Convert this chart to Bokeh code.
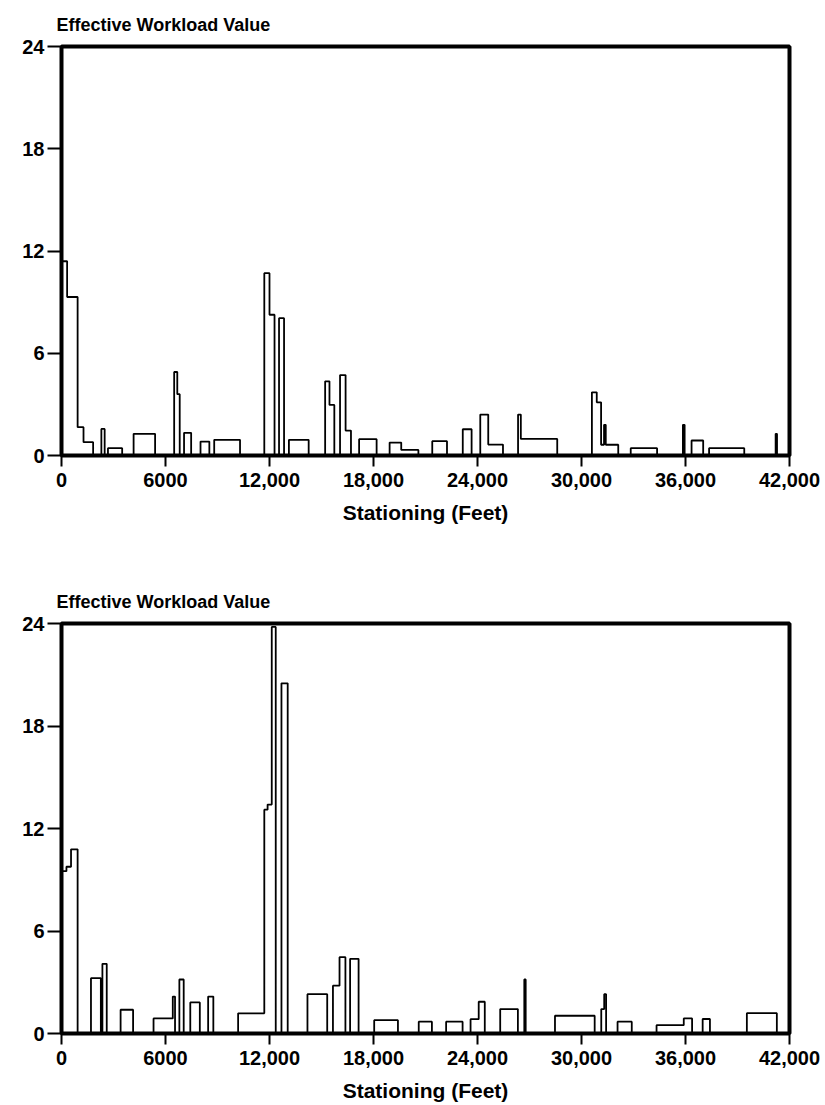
from bokeh.plotting import figure
from bokeh.layouts import column
from bokeh.models import FixedTicker, Range1d
from bokeh.embed import file_html
from bokeh.resources import INLINE

# ---------------- data ----------------
x_ticks = [0, 6000, 12000, 18000, 24000, 30000, 36000, 42000]
x_tick_labels = ["0", "6000", "12,000", "18,000", "24,000", "30,000", "36,000", "42,000"]
y_ticks = [0, 6, 12, 18, 24]

# Top panel: segment start (ft), end (ft), effective workload value
top_start = [0, 325, 930, 1270, 2300, 2680, 4160, 6500, 6680, 7070, 8020, 8810,
             11700, 12000, 12550, 13120, 15210, 15460, 16070, 16390, 17170,
             18930, 19600, 21390, 23150, 24160, 24620, 26340, 26500,
             30600, 30880, 31130, 31300, 31400, 32840, 35850, 36350, 37360, 41200]
top_end = [325, 930, 1270, 1825, 2490, 3500, 5400, 6680, 6820, 7480, 8530, 10300,
           12000, 12290, 12840, 14260, 15460, 15740, 16390, 16700, 18180,
           19600, 20590, 22240, 23660, 24620, 25470, 26500, 28600,
           30880, 31130, 31300, 31400, 32120, 34360, 35950, 37020, 39390, 41280]
top_value = [11.4, 9.3, 1.66, 0.78, 1.56, 0.43, 1.27, 4.9, 3.6, 1.33, 0.82, 0.92,
             10.7, 8.26, 8.06, 0.92, 4.35, 2.97, 4.72, 1.46, 0.96,
             0.76, 0.33, 0.84, 1.54, 2.4, 0.64, 2.4, 0.97,
             3.71, 3.12, 0.63, 1.8, 0.63, 0.43, 1.8, 0.88, 0.43, 1.27]

# Bottom panel
bot_start = [0, 285, 550, 1700, 2360, 3410, 5310, 6420, 6800, 7430, 8460,
             10190, 11700, 11890, 12130, 12690, 14190, 15660, 16040, 16650,
             18040, 20610, 22190, 23600, 24070, 25310, 26700, 28470,
             31140, 31310, 32080, 34330, 35900, 36990, 39540]
bot_end = [285, 550, 930, 2270, 2610, 4130, 6420, 6550, 7050, 7980, 8760,
           11700, 11890, 12130, 12360, 13050, 15330, 16040, 16380, 17140,
           19410, 21370, 23140, 24070, 24420, 26330, 26780, 30760,
           31310, 31420, 32900, 35900, 36380, 37410, 41270]
bot_value = [9.5, 9.76, 10.78, 3.24, 4.08, 1.39, 0.88, 2.16, 3.16, 1.82, 2.16,
             1.18, 13.1, 13.4, 23.8, 20.5, 2.3, 2.8, 4.47, 4.37,
             0.78, 0.69, 0.69, 0.84, 1.86, 1.43, 3.16, 1.04,
             1.43, 2.3, 0.69, 0.49, 0.88, 0.85, 1.19]

FONT = "Liberation Sans"


def step_path(starts, ends, values):
    xs, ys = [], []
    prev_end = None
    for s, e, v in zip(starts, ends, values):
        if prev_end is not None and s == prev_end:
            xs += [s, e]
            ys += [v, v]
        else:
            if prev_end is not None:
                xs.append(prev_end)
                ys.append(0)
            xs += [s, s, e]
            ys += [0, v, v]
        prev_end = e
    xs.append(prev_end)
    ys.append(0)
    return xs, ys


def make_panel(starts, ends, values, height, b_left, b_right, b_top, b_bottom):
    p = figure(width=825, height=height, output_backend="svg", toolbar_location=None,
               x_range=Range1d(0, 42000), y_range=Range1d(0, 24),
               min_border_left=b_left, min_border_right=b_right,
               min_border_top=b_top, min_border_bottom=b_bottom)
    p.title.text = "Effective Workload Value"
    p.title.align = "left"
    p.title.text_font = FONT
    p.title.text_font_size = "18px"
    p.title.text_font_style = "bold"
    p.title.text_color = "black"
    p.title.standoff = 24
    p.title.offset = -5
    p.xgrid.visible = False
    p.ygrid.visible = False
    p.outline_line_color = "black"
    p.outline_line_width = 4
    p.outline_line_alpha = 1
    for ax in (p.xaxis[0], p.yaxis[0]):
        ax.axis_line_color = None
        ax.major_tick_line_color = "black"
        ax.major_tick_line_width = 2
        ax.major_tick_in = 0
        ax.minor_tick_line_color = None
        ax.major_label_text_font = FONT
        ax.major_label_text_font_size = "20px"
        ax.major_label_text_font_style = "bold"
        ax.major_label_text_color = "black"
    p.xaxis.major_tick_out = 11
    p.yaxis.major_tick_out = 14
    p.xaxis.ticker = FixedTicker(ticks=x_ticks)
    p.xaxis.major_label_overrides = {t: l for t, l in zip(x_ticks, x_tick_labels)}
    p.yaxis.ticker = FixedTicker(ticks=y_ticks)
    p.xaxis.axis_label = "Stationing (Feet)"
    p.xaxis.axis_label_text_font = FONT
    p.xaxis.axis_label_text_font_size = "21px"
    p.xaxis.axis_label_text_font_style = "bold"
    p.xaxis.axis_label_text_color = "black"
    p.xaxis.axis_label_standoff = 11
    p.xaxis.major_label_standoff = 6
    p.yaxis.major_label_standoff = 3
    xs, ys = step_path(starts, ends, values)
    p.line(xs, ys, line_color="black", line_width=1.8)
    return p


p1 = make_panel(top_start, top_end, top_value, 560, 57, 36, 45, 105)
p2 = make_panel(bot_start, bot_end, bot_value, 545, 61, 34, 63, 72)

layout = column(p1, p2, spacing=0)
open("out.html", "w").write(file_html(layout, INLINE))
